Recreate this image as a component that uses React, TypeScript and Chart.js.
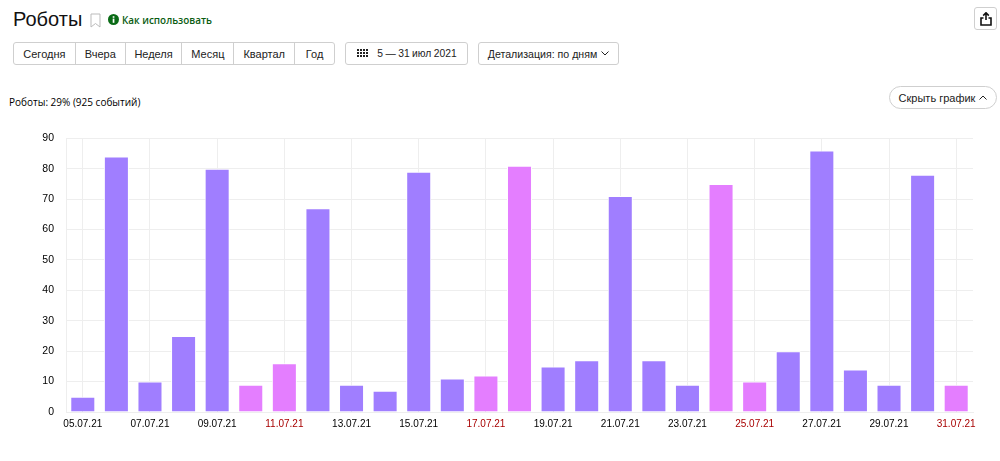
import { useEffect, useRef } from "react";
import type { CSSProperties } from "react";
import Chart from "chart.js/auto";

const days = [
  "05.07.21", "06.07.21", "07.07.21", "08.07.21", "09.07.21", "10.07.21", "11.07.21",
  "12.07.21", "13.07.21", "14.07.21", "15.07.21", "16.07.21", "17.07.21", "18.07.21",
  "19.07.21", "20.07.21", "21.07.21", "22.07.21", "23.07.21", "24.07.21", "25.07.21",
  "26.07.21", "27.07.21", "28.07.21", "29.07.21", "30.07.21", "31.07.21",
];
const robots = [5, 84, 10, 25, 80, 9, 16, 67, 9, 7, 79, 11, 12, 81, 15, 17, 71, 17, 9, 75, 10, 20, 86, 14, 9, 78, 9];
const weekends = ["10.07.21", "11.07.21", "17.07.21", "18.07.21", "24.07.21", "25.07.21", "31.07.21"];

const periods = [
  { label: "Сегодня", width: 62 },
  { label: "Вчера", width: 50 },
  { label: "Неделя", width: 57 },
  { label: "Месяц", width: 52 },
  { label: "Квартал", width: 61 },
  { label: "Год", width: 39 },
];

const SANS = '"Liberation Sans", Arial, sans-serif';
const GRID = "#eeeeee";

const box: CSSProperties = {
  position: "absolute",
  boxSizing: "border-box",
  border: "1px solid #cfcfcf",
  borderRadius: 3,
  background: "#fff",
  display: "flex",
  alignItems: "center",
  justifyContent: "center",
  fontFamily: SANS,
  fontSize: 11,
  color: "#222",
  whiteSpace: "nowrap",
};

function Chevron({ up }: { up?: boolean }) {
  return (
    <svg width="8" height="5" viewBox="0 0 8 5" style={{ marginLeft: 4 }}>
      <path d={up ? "M0.5 4.5L4 1L7.5 4.5" : "M0.5 0.5L4 4L7.5 0.5"} fill="none" stroke="#222" strokeWidth="1" />
    </svg>
  );
}

function BarsChart() {
  const canvasRef = useRef<HTMLCanvasElement | null>(null);

  useEffect(() => {
    if (!canvasRef.current) return;
    const chart = new Chart(canvasRef.current, {
      type: "bar",
      data: {
        labels: days,
        datasets: [
          {
            data: robots,
            backgroundColor: days.map((d) => (weekends.includes(d) ? "#e47eff" : "#a07eff")),
            borderColor: "#fff",
            borderWidth: 1,
            barPercentage: 0.745,
            categoryPercentage: 1,
          },
        ],
      },
      options: {
        animation: false,
        responsive: false,
        layout: { padding: { top: 18, right: 27, bottom: 0, left: 0 } },
        plugins: { legend: { display: false }, tooltip: { enabled: false } },
        scales: {
          x: {
            offset: true,
            afterBuildTicks: (scale) => {
              scale.ticks = scale.ticks.filter((_, i) => i % 2 === 0);
            },
            afterFit: (scale) => {
              scale.height = 49;
            },
            grid: { color: GRID, offset: false, drawTicks: false },
            border: { color: GRID },
            ticks: {
              autoSkip: false,
              maxRotation: 0,
              padding: 6,
              font: { family: SANS, size: 10 },
              color: (ctx) => (weekends.includes(days[ctx.tick.value]) ? "#a80000" : "#000"),
            },
          },
          y: {
            min: 0,
            max: 90,
            afterFit: (scale) => {
              scale.width = 66;
            },
            grid: { color: GRID, drawTicks: false },
            border: { color: GRID },
            ticks: {
              stepSize: 10,
              padding: 12,
              font: { family: SANS, size: 10.5 },
              color: "#000",
            },
          },
        },
      },
    });
    return () => chart.destroy();
  }, []);

  return <canvas ref={canvasRef} width={1000} height={341} style={{ position: "absolute", left: 0, top: 120 }} />;
}

export default function App() {
  useEffect(() => {
    document.body.style.margin = "0";
  }, []);

  let periodLeft = 0;
  return (
    <div style={{ position: "relative", width: 1000, height: 461, overflow: "hidden", background: "#fff" }}>
      <div style={{ position: "absolute", left: 13, top: 4, fontFamily: SANS, fontSize: 20, lineHeight: "30px", color: "#111" }}>
        Роботы
      </div>
      <svg width="11" height="15" viewBox="0 0 11 15" style={{ position: "absolute", left: 90, top: 13 }}>
        <path d="M1 1H10V14L5.5 10.5L1 14Z" fill="none" stroke="#bbb" strokeWidth="1" />
      </svg>
      <svg width="11" height="11" viewBox="0 0 11 11" style={{ position: "absolute", left: 108, top: 14 }}>
        <circle cx="5.5" cy="5.5" r="5.5" fill="#0a6b16" />
        <rect x="4.7" y="4.6" width="1.7" height="4.2" fill="#fff" />
        <rect x="4.7" y="2.2" width="1.7" height="1.6" fill="#fff" />
      </svg>
      <div style={{ position: "absolute", left: 122, top: 13, fontFamily: '"Open Sans", sans-serif', fontWeight: 600, fontSize: 9.9, lineHeight: "15px", color: "#0a5c12" }}>
        Как использовать
      </div>

      <div style={{ ...box, left: 13, top: 42, width: 322, height: 23, justifyContent: "flex-start" }}>
        {periods.map((p) => {
          periodLeft += p.width;
          return (
            <div
              key={p.label}
              style={{
                width: p.width,
                height: "100%",
                boxSizing: "border-box",
                borderRight: periodLeft < 321 ? "1px solid #cfcfcf" : "none",
                display: "flex",
                alignItems: "center",
                justifyContent: "center",
              }}
            >
              {p.label}
            </div>
          );
        })}
      </div>

      <div style={{ ...box, left: 345, top: 42, width: 123, height: 23, fontSize: 10.3, wordSpacing: -0.4 }}>
        <svg width="13" height="9" viewBox="0 0 13 9" style={{ marginRight: 8 }}>
          {[0, 1, 2].flatMap((r) =>
            [0, 1, 2, 3].map((c) => <rect key={`${r}-${c}`} x={c * 3 + 1} y={r * 3} width="2" height="2" fill="#222" />)
          )}
        </svg>
        5 — 31 июл 2021
      </div>

      <div style={{ ...box, left: 478, top: 42, width: 141, height: 23, fontSize: 10.6 }}>
        Детализация: по дням
        <Chevron />
      </div>

      <div style={{ ...box, left: 974, top: 7, width: 23, height: 23 }}>
        <svg width="12" height="14" viewBox="0 0 12 14">
          <path d="M6 8V1M3.2 3.6L6 0.8L8.8 3.6" fill="none" stroke="#111" strokeWidth="1.6" />
          <path d="M3.5 6H1V13H11V6H8.5" fill="none" stroke="#111" strokeWidth="1.6" />
        </svg>
      </div>

      <div style={{ position: "absolute", left: 9, top: 95, fontFamily: '"Open Sans", sans-serif', fontWeight: 500, fontSize: 10, lineHeight: "15px", color: "#000" }}>
        Роботы: 29% (925 событий)
      </div>

      <div style={{ ...box, left: 889, top: 86, width: 108, height: 23, borderRadius: 12 }}>
        Скрыть график
        <Chevron up />
      </div>

      <BarsChart />
    </div>
  );
}
